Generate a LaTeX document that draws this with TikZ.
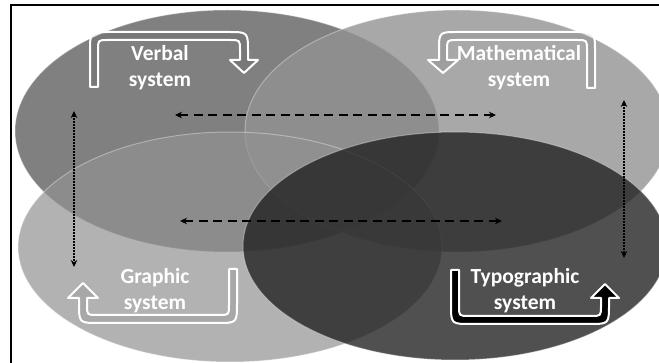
\documentclass[tikz,border=0pt]{standalone}
\usepackage{fontspec}
\setmainfont{Carlito}
\usetikzlibrary{shapes.geometric,arrows.meta}
\definecolor{cverbal}{gray}{0.5}
\definecolor{cmid}{gray}{0.573}
\definecolor{ctypo}{gray}{0.12}
\tikzset{
  blob/.style={ellipse, inner sep=0pt, minimum width=424pt, draw=white, draw opacity=0.35, line width=1pt},
  lbl/.style={text=white, font=\fontsize{21.5}{26}\selectfont\bfseries, align=center, inner sep=0pt},
  hollow/.style={draw=white, line width=2pt, line join=round},
  dashconn/.style={black, line width=2.4pt, dash pattern=on 9pt off 5.5pt, {Stealth[length=7pt,width=6.5pt]}-{Stealth[length=7pt,width=6.5pt]}},
  dotconn/.style={black, line width=2.6pt, dash pattern=on 1.7pt off 1.3pt, {Stealth[length=7pt,width=6.5pt]}-{Stealth[length=7pt,width=6.5pt]}}
}
\begin{document}
\begin{tikzpicture}[x=1pt,y=-1pt]
\useasboundingbox (0,0) rectangle (659,363);
% ellipses
\node[blob, minimum height=242pt, fill=cverbal] (V) at (227,131) {};
\node[blob, minimum height=242pt, fill=cmid, fill opacity=0.8] (M) at (457,131) {};
\node[blob, minimum height=230pt, fill=cmid, fill opacity=0.7] (G) at (230,247) {};
\node[blob, minimum height=228pt, fill=ctypo, fill opacity=0.78] (T) at (455,246) {};
% frame
\draw[line width=2pt] (10.5,363) -- (10.5,5.5) -- (659,5.5);
% bent arrows
\draw[hollow, fill=black, fill opacity=0.06] (90,87) -- (90,52) .. controls (90,32) .. (110,32) -- (228,32) .. controls (248,32) .. (248,52) -- (248,60) -- (258,60) -- (244,73) -- (230,60) -- (240,60) -- (240,50) .. controls (240,40) .. (230,40) -- (108,40) .. controls (98,40) .. (98,50) -- (98,87) -- cycle;
\draw[hollow, fill=black, fill opacity=0.06] (595,88) -- (595,52) .. controls (595,32) .. (575,32) -- (458,32) .. controls (439,32) .. (439,51) -- (439,60) -- (428,60) -- (443,73) -- (458,60) -- (447,60) -- (447,50) .. controls (447,40) .. (457,40) -- (577,40) .. controls (587,40) .. (587,50) -- (587,88) -- cycle;
\draw[hollow, fill=black, fill opacity=0.06] (237,269) -- (237,303) .. controls (237,323) .. (217,323) -- (99,323) .. controls (79,323) .. (79,303) -- (79,298) -- (68,298) -- (83,283) -- (98,298) -- (87,298) -- (87,305) .. controls (87,315) .. (97,315) -- (219,315) .. controls (229,315) .. (229,305) -- (229,269) -- cycle;
\draw[hollow, fill=black] (451,270) -- (451,304) .. controls (451,324) .. (471,324) -- (589,324) .. controls (609,324) .. (609,304) -- (609,298) -- (619,298) -- (605,284) -- (591,298) -- (601,298) -- (601,306) .. controls (601,316) .. (591,316) -- (469,316) .. controls (459,316) .. (459,306) -- (459,270) -- cycle;
% labels
\node[lbl] (tV) at (160,68) {Verbal\\system};
\node[lbl] (tM) at (519,68) {Mathematical\\system};
\node[lbl] (tG) at (155,291) {Graphic\\system};
\node[lbl] (tT) at (525,291) {Typographic\\system};
% connectors
\coordinate (a1) at (175,115);
\coordinate (a2) at (496,115);
\coordinate (b1) at (180,221);
\coordinate (b2) at (502,221);
\coordinate (c1) at (74,111);
\coordinate (c2) at (74,267);
\coordinate (d1) at (624,100);
\coordinate (d2) at (624,258);
\draw[dashconn] (a1) -- (a2);
\draw[dashconn] (b1) -- (b2);
\draw[dotconn] (c1) -- (c2);
\draw[dotconn] (d1) -- (d2);
\end{tikzpicture}
\end{document}
